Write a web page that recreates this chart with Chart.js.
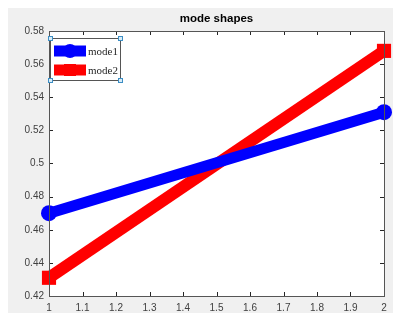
<!DOCTYPE html>
<html>
<head>
<meta charset="utf-8">
<script src="https://cdn.jsdelivr.net/npm/chart.js@4.4.1/dist/chart.umd.min.js"></script>
<style>
  html, body { margin: 0; padding: 0; background: #fff; }
  #wrap { width: 396px; height: 320px; }
</style>
</head>
<body>
<div id="wrap"><canvas id="myChart" width="396" height="320"></canvas></div>
<script>
const xValues = [1, 2];
const mode1Values = [0.47, 0.531];
const mode2Values = [0.431, 0.568];
const seriesLabels = ['mode1', 'mode2'];
const xTicks = [1, 1.1, 1.2, 1.3, 1.4, 1.5, 1.6, 1.7, 1.8, 1.9, 2];
const yTicks = [0.42, 0.44, 0.46, 0.48, 0.5, 0.52, 0.54, 0.56, 0.58];
const chartTitle = 'mode shapes';

const AXIS_COLOR = '#262626';
const TICK_COLOR = '#404040';

// 背景（グレー枠＋白いプロット領域）
const figureBackground = {
  id: 'figureBackground',
  beforeDraw(chart) {
    const { ctx, chartArea } = chart;
    ctx.save();
    ctx.fillStyle = '#f0f0f0';
    ctx.fillRect(8, 8, 385, 305);
    ctx.fillStyle = '#ffffff';
    ctx.fillRect(chartArea.left, chartArea.top, chartArea.right - chartArea.left, chartArea.bottom - chartArea.top);
    ctx.restore();
  }
};

// 軸の箱と内向きの目盛り、タイトル
const matlabAxes = {
  id: 'matlabAxes',
  afterDatasetsDraw(chart) {
    const { ctx, chartArea, scales } = chart;
    const { left, right, top, bottom } = chartArea;
    ctx.save();
    ctx.strokeStyle = AXIS_COLOR;
    ctx.lineWidth = 1;
    ctx.beginPath();
    xTicks.forEach(v => {
      const x = Math.round(scales.x.getPixelForValue(v)) + 0.5;
      ctx.moveTo(x, bottom); ctx.lineTo(x, bottom - 4);
      ctx.moveTo(x, top); ctx.lineTo(x, top + 4);
    });
    yTicks.forEach(v => {
      const y = Math.round(scales.y.getPixelForValue(v)) + 0.5;
      ctx.moveTo(left, y); ctx.lineTo(left + 4, y);
      ctx.moveTo(right, y); ctx.lineTo(right - 4, y);
    });
    ctx.stroke();
    ctx.strokeStyle = '#555';
    ctx.strokeRect(Math.round(left) + 0.5, Math.round(top) + 0.5, Math.round(right - left), Math.round(bottom - top));

    ctx.fillStyle = '#000';
    ctx.font = 'bold 11.5px "Liberation Sans", Arial, sans-serif';
    ctx.textAlign = 'center';
    ctx.textBaseline = 'middle';
    ctx.fillText(chartTitle, (left + right) / 2, 19);
    ctx.restore();
  }
};

// 凡例（プロット内の左上）
const insideLegend = {
  id: 'insideLegend',
  afterDraw(chart) {
    const { ctx, chartArea } = chart;
    const bx = chartArea.left + 1, by = chartArea.top + 7, bw = 70, bh = 42;
    ctx.save();
    ctx.fillStyle = '#fff';
    ctx.fillRect(bx, by, bw, bh);
    ctx.strokeStyle = '#555';
    ctx.lineWidth = 1;
    ctx.strokeRect(bx + 0.5, by + 0.5, bw, bh);

    chart.data.datasets.forEach((ds, i) => {
      const y = by + 13 + i * 19;
      ctx.strokeStyle = ds.borderColor;
      ctx.lineWidth = 11;
      ctx.beginPath();
      ctx.moveTo(bx + 4, y); ctx.lineTo(bx + 36, y);
      ctx.stroke();
      ctx.fillStyle = ds.borderColor;
      const cx = bx + 20;
      if (ds.pointStyle === 'circle') {
        ctx.beginPath(); ctx.arc(cx, y, 7, 0, Math.PI * 2); ctx.fill();
      } else {
        ctx.fillRect(cx - 6, y - 6, 12, 12);
      }
      ctx.fillStyle = '#262626';
      ctx.font = '11px "Liberation Serif", "Times New Roman", serif';
      ctx.textAlign = 'left';
      ctx.textBaseline = 'middle';
      ctx.fillText(ds.label, bx + 38, y + 1);
    });

    // 選択ハンドル
    ctx.lineWidth = 1;
    ctx.fillStyle = '#d8ecf8';
    ctx.strokeStyle = '#3c8ec4';
    [[bx, by], [bx + bw, by], [bx, by + bh], [bx + bw, by + bh]].forEach(([hx, hy]) => {
      ctx.fillRect(hx - 2, hy - 2, 5, 5);
      ctx.strokeRect(hx - 2 + 0.5, hy - 2 + 0.5, 4, 4);
    });
    ctx.restore();
  }
};

const ctx = document.getElementById('myChart');
new Chart(ctx, {
  type: 'line',
  data: {
    datasets: [
      {
        label: seriesLabels[0],
        data: xValues.map((x, i) => ({ x: x, y: mode1Values[i] })),
        borderColor: '#0000ff',
        backgroundColor: '#0000ff',
        borderWidth: 11,
        pointStyle: 'circle',
        pointRadius: 8,
        pointHoverRadius: 8,
        pointBorderWidth: 0,
        borderCapStyle: 'butt',
      },
      {
        label: seriesLabels[1],
        data: xValues.map((x, i) => ({ x: x, y: mode2Values[i] })),
        borderColor: '#ff0000',
        backgroundColor: '#ff0000',
        borderWidth: 12,
        pointStyle: 'rect',
        pointRadius: 10,
        pointHoverRadius: 10,
        pointBorderWidth: 0,
        borderCapStyle: 'butt',
      }
    ]
  },
  options: {
    responsive: false,
    animation: false,
    devicePixelRatio: 1,
    clip: false,
    layout: { padding: { left: 0, right: 12, top: 31, bottom: 0 } },
    scales: {
      x: {
        type: 'linear',
        min: 1,
        max: 2,
        afterBuildTicks: (scale) => { scale.ticks = xTicks.map(v => ({ value: v })); },
        afterFit: (scale) => { scale.height = 24; },
        grid: { display: false, drawTicks: false },
        border: { display: false },
        ticks: {
          padding: 6,
          color: TICK_COLOR,
          font: { family: '"Liberation Sans", Arial, sans-serif', size: 10 },
          maxRotation: 0,
          autoSkip: false,
          callback: (v) => String(v),
        }
      },
      y: {
        type: 'linear',
        min: 0.42,
        max: 0.58,
        afterBuildTicks: (scale) => { scale.ticks = yTicks.map(v => ({ value: v })); },
        afterFit: (scale) => { scale.width = 49; },
        grid: { display: false, drawTicks: false },
        border: { display: false },
        ticks: {
          padding: 5,
          color: TICK_COLOR,
          font: { family: '"Liberation Sans", Arial, sans-serif', size: 10 },
          autoSkip: false,
          callback: (v) => String(Math.round(v * 100) / 100),
        }
      }
    },
    plugins: {
      legend: { display: false },
      title: { display: false },
      tooltip: { enabled: false },
    }
  },
  plugins: [figureBackground, matlabAxes, insideLegend]
});
</script>
</body>
</html>
